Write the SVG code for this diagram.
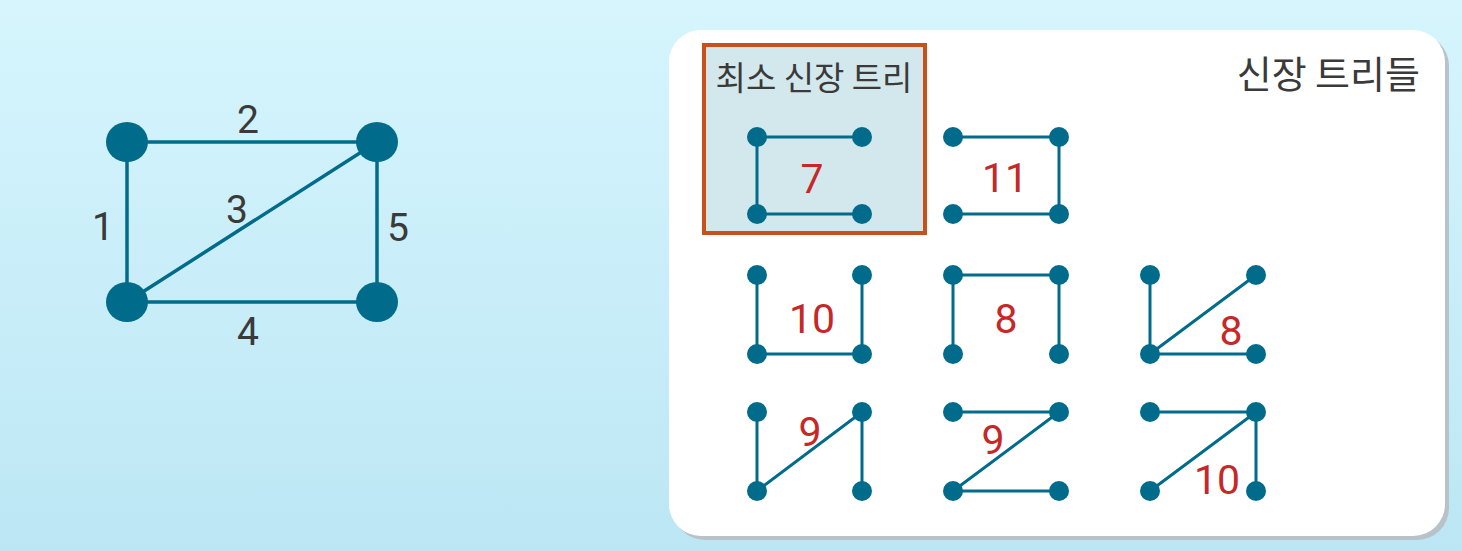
<svg xmlns="http://www.w3.org/2000/svg" width="1462" height="551" viewBox="0 0 1462 551">
<defs>
<linearGradient id="bg" x1="0" y1="0" x2="0" y2="1">
<stop offset="0" stop-color="#d6f5fd"/>
<stop offset="0.5" stop-color="#c9eef9"/>
<stop offset="1" stop-color="#bce6f4"/>
</linearGradient>
<style>
.e{stroke:#006b8a;stroke-width:3.5;fill:none;stroke-linecap:round}
.se{stroke:#006b8a;stroke-width:3;fill:none}
.n{fill:#006b8a}
.w{font-family:Roboto,"Liberation Sans",sans-serif;font-size:39px;fill:#3a3a3a;text-anchor:middle}
.r{font-family:Roboto,"Liberation Sans",sans-serif;font-size:41px;fill:#c62828;text-anchor:middle}
.k{font-family:"Noto Sans CJK KR","Noto Sans",sans-serif;fill:#3a3a3a}
</style>
</defs>
<rect width="1462" height="551" fill="url(#bg)"/>

<g id="graph-connectors">
<line class="e" x1="127" y1="142" x2="377" y2="142"/>
<line class="e" x1="127" y1="142" x2="127" y2="302"/>
<line class="e" x1="377" y1="142" x2="377" y2="302"/>
<line class="e" x1="127" y1="302" x2="377" y2="302"/>
<line class="e" x1="127" y1="302" x2="377" y2="142"/>
</g>
<g id="graph-nodes">
<ellipse id="n1" class="n" cx="127" cy="142" rx="21" ry="20"/>
<ellipse id="n2" class="n" cx="377" cy="142" rx="21" ry="20"/>
<ellipse id="n3" class="n" cx="127" cy="302" rx="21" ry="20"/>
<ellipse id="n4" class="n" cx="377" cy="302" rx="21" ry="20"/>
</g>
<g id="graph-labels">
<text class="w" x="248" y="133">2</text>
<text class="w" x="103" y="240">1</text>
<text class="w" x="237" y="223">3</text>
<text class="w" x="398" y="241">5</text>
<text class="w" x="248" y="345">4</text>
</g>

<g id="panel">
<rect x="673" y="34" width="776" height="506" rx="32" fill="#b7c3c8"/>
<rect x="669" y="30" width="776" height="506" rx="32" fill="#ffffff"/>
<text class="k" x="1420" y="88" font-size="38" text-anchor="end">신장 트리들</text>
</g>

<g id="mst-box">
<rect x="704" y="45" width="221" height="188" fill="#d3e8ec" stroke="#c8501a" stroke-width="4"/>
<text class="k" x="814" y="90" font-size="33" text-anchor="middle">최소 신장 트리</text>
</g>

<g id="tree1">
<path class="se" d="M862 137H757V214H862"/>
<circle class="n" cx="757" cy="137" r="10"/><circle class="n" cx="862" cy="137" r="10"/>
<circle class="n" cx="757" cy="214" r="10"/><circle class="n" cx="862" cy="214" r="10"/>
<text class="r" x="812" y="193">7</text>
</g>
<g id="tree2">
<path class="se" d="M953 137H1059V214H953"/>
<circle class="n" cx="953" cy="137" r="10"/><circle class="n" cx="1059" cy="137" r="10"/>
<circle class="n" cx="953" cy="214" r="10"/><circle class="n" cx="1059" cy="214" r="10"/>
<text class="r" x="1005" y="192">11</text>
</g>
<g id="tree3">
<path class="se" d="M757 275V354H862V275"/>
<circle class="n" cx="757" cy="275" r="10"/><circle class="n" cx="862" cy="275" r="10"/>
<circle class="n" cx="757" cy="354" r="10"/><circle class="n" cx="862" cy="354" r="10"/>
<text class="r" x="812" y="333">10</text>
</g>
<g id="tree4">
<path class="se" d="M953 354V275H1059V354"/>
<circle class="n" cx="953" cy="275" r="10"/><circle class="n" cx="1059" cy="275" r="10"/>
<circle class="n" cx="953" cy="354" r="10"/><circle class="n" cx="1059" cy="354" r="10"/>
<text class="r" x="1006" y="333">8</text>
</g>
<g id="tree5">
<path class="se" d="M1150 275V354H1256M1150 354L1256 275"/>
<circle class="n" cx="1150" cy="275" r="10"/><circle class="n" cx="1256" cy="275" r="10"/>
<circle class="n" cx="1150" cy="354" r="10"/><circle class="n" cx="1256" cy="354" r="10"/>
<text class="r" x="1231" y="345">8</text>
</g>
<g id="tree6">
<path class="se" d="M757 412V491L862 412V491"/>
<circle class="n" cx="757" cy="412" r="10"/><circle class="n" cx="862" cy="412" r="10"/>
<circle class="n" cx="757" cy="491" r="10"/><circle class="n" cx="862" cy="491" r="10"/>
<text class="r" x="810" y="446">9</text>
</g>
<g id="tree7">
<path class="se" d="M953 412H1059L953 491H1059"/>
<circle class="n" cx="953" cy="412" r="10"/><circle class="n" cx="1059" cy="412" r="10"/>
<circle class="n" cx="953" cy="491" r="10"/><circle class="n" cx="1059" cy="491" r="10"/>
<text class="r" x="993" y="454">9</text>
</g>
<g id="tree8">
<path class="se" d="M1150 412H1256V491M1150 491L1256 412"/>
<circle class="n" cx="1150" cy="412" r="10"/><circle class="n" cx="1256" cy="412" r="10"/>
<circle class="n" cx="1150" cy="491" r="10"/><circle class="n" cx="1256" cy="491" r="10"/>
<text class="r" x="1217" y="494">10</text>
</g>
</svg>
